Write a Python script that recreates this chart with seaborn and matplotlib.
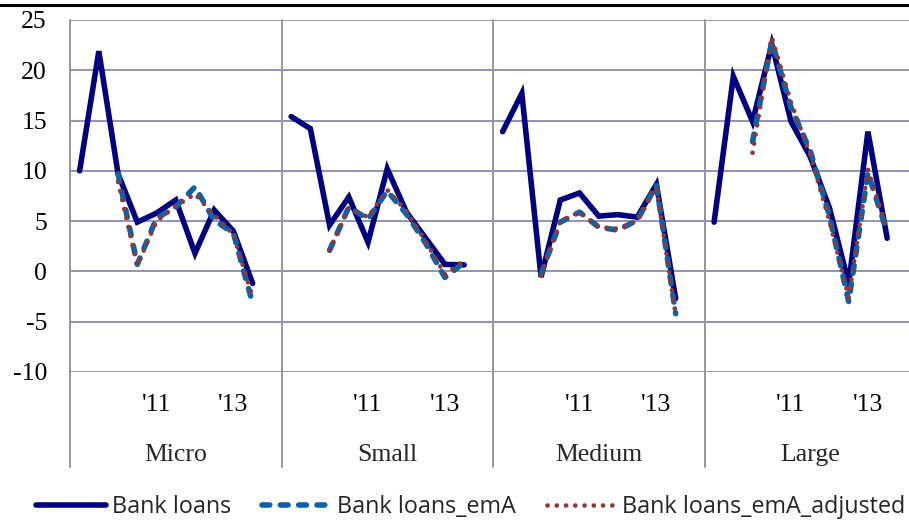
import numpy as np
import pandas as pd
import matplotlib
matplotlib.use("Agg")
import matplotlib.pyplot as plt
import matplotlib.transforms as mtrans
from matplotlib.lines import Line2D
import seaborn as sns

nan = np.nan

# ---------------- data ----------------
groups = ["Micro", "Small", "Medium", "Large"]
n_slots = 11                      # half-year periods per group (last one empty)
tick_slots = [4, 8]
tick_labels = ["'11", "'13"]
y_ticks = [-10, -5, 0, 5, 10, 15, 20, 25]

bank_micro = [10.0, 21.9, 9.7, 4.9, 5.8, 7.1, 1.8, 6.1, 4.0, -1.2]
bank_small = [15.4, 14.2, 4.6, 7.4, 2.9, 10.2, 5.9, 3.3, 0.7, 0.65]
bank_medium = [13.9, 17.7, -0.55, 7.1, 7.8, 5.5, 5.65, 5.4, 8.65, -2.7]
bank_large = [4.9, 19.4, 14.9, 22.6, 14.9, 11.4, 6.3, -1.2, 13.9, 3.3]

ema_micro = [nan, nan, 9.7, 0.7, 5.3, 6.4, 8.4, 5.1, 3.8, -3.2]
ema_small = [nan, nan, 2.1, 6.4, 5.2, 8.0, 5.7, 2.8, -0.6, 0.9]
ema_medium = [nan, nan, -0.25, 4.9, 5.9, 4.4, 4.1, 5.1, 8.6, -4.2]
ema_large = [nan, nan, 12.9, 22.9, 16.3, 12.0, 5.5, -3.0, 9.8, 3.9]

adj_micro = [nan, nan, 8.9, 0.6, 5.0, 6.5, 7.7, 5.6, 3.7, -2.6]
adj_small = [nan, nan, 2.1, 6.3, 5.4, 8.1, 6.0, 3.0, -0.3, 1.1]
adj_medium = [nan, nan, -0.4, 5.0, 5.9, 4.4, 4.25, 5.0, 8.4, -4.3]
adj_large = [nan, nan, 11.8, 23.3, 16.8, 11.6, 5.0, -2.6, 10.1, 4.2]

series_names = ["Bank loans", "Bank loans_emA", "Bank loans_emA_adjusted"]
series_values = {
    "Bank loans": [bank_micro, bank_small, bank_medium, bank_large],
    "Bank loans_emA": [ema_micro, ema_small, ema_medium, ema_large],
    "Bank loans_emA_adjusted": [adj_micro, adj_small, adj_medium, adj_large],
}

rows = []
for s in series_names:
    for gi, g in enumerate(groups):
        for i, v in enumerate(series_values[s][gi]):
            rows.append({"series": s, "group": g, "slot": gi * n_slots + i, "value": v})
df = pd.DataFrame(rows).dropna()

# ---------------- style ----------------
sns.set_style("white")
plt.rcParams["font.family"] = ["Liberation Serif", "DejaVu Serif"]
plt.rcParams["axes.unicode_minus"] = False

styles = {
    "Bank loans": dict(color="#000080", linewidth=4.0, linestyle="-",
                       solid_capstyle="round", solid_joinstyle="miter"),
    "Bank loans_emA": dict(color="#0B62A6", linewidth=4.0, linestyle=(0, (1.4, 1.9)),
                           dash_capstyle="round"),
    "Bank loans_emA_adjusted": dict(color="#8B3A3A", linewidth=3.4, linestyle=(0, (0.01, 1.95)),
                                    dash_capstyle="round"),
}

W, H = 909, 528
fig = plt.figure(figsize=(W / 100, H / 100), dpi=100)
ax_left, ax_right, ax_top, ax_bot = 70, 916, 20, 372
ax = fig.add_axes([ax_left / W, 1 - ax_bot / H, (ax_right - ax_left) / W, (ax_bot - ax_top) / H])

grid_color = "#9393B7"
sep_color = "#8C8C8C"

handles = []
for s in series_names:
    for gi, g in enumerate(groups):
        sub = df[(df.series == s) & (df.group == g)]
        sns.lineplot(data=sub, x="slot", y="value", ax=ax, errorbar=None, **styles[s])
        if gi == 0:
            handles.append(ax.lines[-1])

ax.set_xlim(-0.5, len(groups) * n_slots - 0.5)
ax.set_ylim(min(y_ticks), max(y_ticks))
ax.set_yticks(y_ticks)
ax.set_yticklabels([str(t) for t in y_ticks])
ax.yaxis.grid(True, color=grid_color, linewidth=1.4)
ax.xaxis.grid(False)
ax.set_axisbelow(True)
for sp in ax.spines.values():
    sp.set_visible(False)
ax.set_xlabel("")
ax.set_ylabel("")

xt, xl = [], []
for gi in range(len(groups)):
    for ts, tl in zip(tick_slots, tick_labels):
        xt.append(gi * n_slots + ts)
        xl.append(tl)
ax.set_xticks(xt)
ax.set_xticklabels(xl)
ax.tick_params(axis="x", length=0, pad=16, labelsize=18.5, colors="black")
ax.tick_params(axis="y", length=5.8, width=1.4, color=grid_color, pad=10.8,
               labelsize=18.5, labelcolor="black")

# group separators and left axis line
ax_h = ax_bot - ax_top
ymin_sep = (ax_bot - 467) / ax_h
for gi in range(len(groups)):
    ax.axvline(gi * n_slots - 0.5, ymin=ymin_sep, ymax=1, color=sep_color,
               linewidth=1.3, clip_on=False, zorder=0.5)

trans = mtrans.blended_transform_factory(ax.transData, ax.transAxes)
for gi, g in enumerate(groups):
    ax.text(gi * n_slots + (n_slots - 1) / 2, (ax_bot - 455) / ax_h, g,
            transform=trans, ha="center", va="center", fontsize=18.5)

# top border line
fig.add_artist(Line2D([0, 1], [1 - 5 / H, 1 - 5 / H], transform=fig.transFigure,
                      color="black", linewidth=2.2))

leg = fig.legend(handles, series_names, loc="center", bbox_to_anchor=(471 / W, 1 - 507 / H),
                 ncol=3, frameon=False, handlelength=3.0, handletextpad=0.25,
                 columnspacing=1.3, prop={"family": "Open Sans", "size": 16.8})

fig.savefig("out.png", dpi=100)
